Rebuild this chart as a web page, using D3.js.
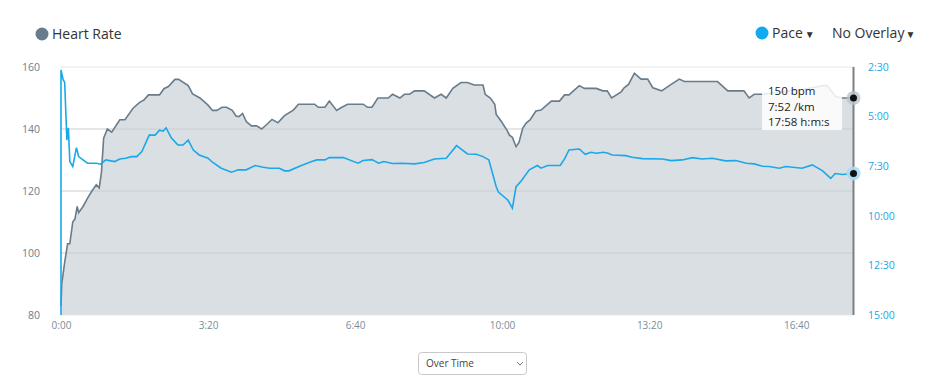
<!DOCTYPE html>
<html>
<head>
<meta charset="utf-8">
<script src="https://cdn.jsdelivr.net/npm/d3@7"></script>
<style>
  body { margin: 0; background: #fff; font-family: "Open Sans", "Noto Sans", sans-serif; }
</style>
</head>
<body>
<div id="vis-container"></div>
<script>
// time in seconds, heart rate in bpm
const hrTime = [0, 1, 5, 9, 12, 16, 19, 22, 24, 30, 36, 42, 48, 52, 55, 58, 63, 69, 80, 87, 98, 107, 113, 119, 134, 140, 146, 155, 160, 173, 179, 189, 200, 206, 212, 219, 225, 233, 238, 242, 247, 252, 259, 266, 273, 279, 287, 295, 304, 316, 323, 345, 350, 359, 365, 375, 382, 390, 411, 417, 423, 431, 445, 451, 461, 467, 474, 481, 494, 508, 517, 524, 533, 544, 553, 562, 574, 577, 584, 590, 592, 599, 607, 610, 614, 619, 623, 628, 633, 638, 646, 653, 667, 678, 685, 691, 705, 712, 728, 737, 743, 749, 762, 766, 772, 780, 789, 798, 805, 817, 830, 841, 848, 893, 907, 929, 936, 943, 954, 990, 1010, 1036, 1042, 1054, 1063, 1078];
const hrValue = [83, 90, 97, 103, 103, 110, 111, 115, 113, 115, 117.6, 120, 122, 121, 126, 137, 140, 139, 143, 143, 146.7, 148.6, 149.4, 151, 151, 153, 153.7, 156, 156, 154, 151.3, 150, 147.7, 146, 146, 147, 147, 146, 144.2, 144, 145, 142.4, 141, 141, 140, 141.3, 143.1, 142, 144.3, 146.1, 148, 148, 147, 147, 149, 146, 147, 148, 148, 147, 147, 150, 150, 151.2, 150, 151.2, 151.2, 152.3, 152.3, 150, 151.2, 150, 153.1, 155, 155, 154.2, 154.2, 151.2, 150, 148, 144.7, 142.4, 139.5, 138, 137.3, 134.3, 135.7, 140.2, 142, 142.9, 145.8, 146.1, 149, 149, 151, 151, 154, 153.1, 153.1, 152.3, 152.3, 150, 152, 153.3, 154.4, 158, 156.1, 156.1, 153.3, 152.3, 154.4, 156.1, 155.3, 155.3, 152.3, 152.3, 150, 151.2, 151.2, 152.3, 152.8, 154, 154, 150.4, 150, 150];

// time in seconds, pace in seconds per km
const paceTime = [0, 0, 3, 5, 8, 10, 12, 16, 21, 24, 36, 48, 54, 61, 73, 80, 88, 96, 103, 110, 120, 128, 134, 139, 143, 150, 159, 166, 173, 180, 188, 200, 206, 218, 232, 241, 252, 264, 275, 284, 297, 304, 310, 327, 341, 348, 359, 365, 384, 404, 411, 423, 432, 439, 451, 463, 481, 494, 508, 524, 538, 553, 565, 574, 582, 592, 595, 608, 614, 619, 626, 637, 648, 653, 662, 679, 685, 691, 705, 713, 721, 728, 738, 744, 750, 768, 777, 791, 818, 830, 845, 859, 872, 886, 904, 918, 932, 943, 954, 963, 977, 986, 1008, 1022, 1036, 1047, 1053, 1063, 1078];
const paceValue = [900, 159, 189, 196, 371, 334, 436, 451, 394, 421, 441, 441, 444, 431, 436, 428, 426, 421, 421, 406, 356, 356, 341, 344, 334, 364, 386, 386, 371, 401, 416, 426, 438, 456, 468, 461, 461, 448, 453, 456, 456, 464, 464, 448, 436, 431, 431, 424, 424, 441, 433, 430, 441, 436, 442, 441, 443, 439, 428, 426, 388, 413, 414, 421, 431, 512, 528, 553, 577, 512, 495, 461, 448, 456, 448, 448, 428, 401, 398, 414, 408, 411, 408, 411, 416, 418, 423, 427, 428, 433, 431, 424, 428, 426, 434, 433, 441, 443, 450, 451, 456, 451, 456, 446, 464, 487, 472, 475, 472];

const xTicks = [0, 200, 400, 600, 800, 1000];
const hrTicks = [80, 100, 120, 140, 160];
const paceTicks = [150, 300, 450, 600, 750, 900];

const tooltipLines = ["150 bpm", "7:52 /km", "17:58 h:m:s"];

const width = 935;
const height = 390;
const margin = { top: 67, right: 81.5, bottom: 75, left: 61 };

const hrData = hrTime.map((t, i) => ({ t: t, v: hrValue[i] }));
const paceData = paceTime.map((t, i) => ({ t: t, v: paceValue[i] }));

const fmt = (s) => Math.floor(s / 60) + ":" + String(s % 60).padStart(2, "0");

const svg = d3.select("#vis-container")
  .append("svg")
  .attr("width", width)
  .attr("height", height);

// Scales
const x = d3.scaleLinear()
  .domain([0, 1078])
  .range([margin.left, width - margin.right]);

const yHr = d3.scaleLinear()
  .domain([80, 160])
  .range([height - margin.bottom, margin.top]);

const yPace = d3.scaleLinear()
  .domain([150, 900])
  .range([margin.top, height - margin.bottom]);

// Heart rate area
svg.append("path")
  .datum(hrData)
  .attr("fill", "#dadfe3")
  .attr("d", d3.area()
    .x((d) => x(d.t))
    .y0(yHr(80))
    .y1((d) => yHr(d.v)));

// Grid lines
svg.append("g")
  .selectAll("line")
  .data(hrTicks)
  .enter()
  .append("line")
    .attr("x1", margin.left)
    .attr("x2", width - margin.right)
    .attr("y1", (d) => yHr(d))
    .attr("y2", (d) => yHr(d))
    .attr("stroke", (d) => (d === 160 || d === 80) ? "#e3e6e9" : "#c9ced3")
    .attr("stroke-width", 1);

svg.append("path")
  .datum(hrData)
  .attr("fill", "none")
  .attr("stroke", "#687c8c")
  .attr("stroke-width", 1.6)
  .attr("d", d3.line().x((d) => x(d.t)).y((d) => yHr(d.v)));

svg.append("path")
  .datum(paceData)
  .attr("fill", "none")
  .attr("stroke", "#1aa8e9")
  .attr("stroke-width", 1.6)
  .attr("d", d3.line().x((d) => x(d.t)).y((d) => yPace(d.v)));

// Left axis
svg.append("g")
  .attr("transform", `translate(40,0)`)
  .call(d3.axisLeft(yHr).tickValues(hrTicks).tickSize(0).tickPadding(0))
  .call((g) => g.select(".domain").remove())
  .call((g) => g.selectAll("text")
    .attr("fill", "#6a7e8e")
    .attr("font-size", "10.5px")
    .attr("font-family", "Open Sans, sans-serif"));

// Right axis
svg.append("g")
  .attr("transform", `translate(868,0)`)
  .call(d3.axisRight(yPace).tickValues(paceTicks).tickFormat(fmt).tickSize(0).tickPadding(0))
  .call((g) => g.select(".domain").remove())
  .call((g) => g.selectAll("text")
    .attr("fill", "#1ba7e8")
    .attr("font-size", "10.5px")
    .attr("font-family", "Open Sans, sans-serif"));

// Bottom axis
svg.append("g")
  .attr("transform", `translate(0,${height - margin.bottom + 7})`)
  .call(d3.axisBottom(x).tickValues(xTicks).tickFormat(fmt).tickSize(0).tickPadding(0))
  .call((g) => g.select(".domain").remove())
  .call((g) => g.selectAll("text")
    .attr("fill", "#7a8c9a")
    .attr("font-size", "10px")
    .attr("font-family", "Open Sans, sans-serif"));

// Hover cursor
const last = hrData.length - 1;
const cx = x(hrData[last].t);
svg.append("line")
  .attr("x1", cx).attr("x2", cx)
  .attr("y1", margin.top).attr("y2", height - margin.bottom)
  .attr("stroke", "#7b7f83")
  .attr("stroke-width", 2);

// Tooltip
svg.append("rect")
  .attr("x", 762).attr("y", 83)
  .attr("width", 80).attr("height", 47)
  .attr("fill", "#fff")
  .attr("opacity", 0.85);

svg.append("g")
  .selectAll("text")
  .data(tooltipLines)
  .enter()
  .append("text")
    .attr("x", 768)
    .attr("y", (d, i) => 95 + i * 15.5)
    .attr("font-size", "11.5px")
    .attr("font-family", "Open Sans, sans-serif")
    .attr("fill", "#222")
    .text((d) => d);

// Markers
svg.append("circle")
  .attr("cx", cx).attr("cy", yHr(hrData[last].v))
  .attr("r", 7).attr("fill", "#b9c2ca").attr("opacity", 0.8);
svg.append("circle")
  .attr("cx", cx).attr("cy", yHr(hrData[last].v))
  .attr("r", 3.5).attr("fill", "#111");
svg.append("circle")
  .attr("cx", cx).attr("cy", yPace(paceData[paceData.length - 1].v))
  .attr("r", 7).attr("fill", "#a9dcf5").attr("opacity", 0.9);
svg.append("circle")
  .attr("cx", cx).attr("cy", yPace(paceData[paceData.length - 1].v))
  .attr("r", 3.5).attr("fill", "#111");

// Legends
svg.append("circle").attr("cx", 42).attr("cy", 34).attr("r", 6.5).attr("fill", "#687c8c");
svg.append("text")
  .attr("x", 52).attr("y", 39)
  .attr("font-size", "14px")
  .attr("font-family", "Open Sans, sans-serif")
  .attr("fill", "#333")
  .text("Heart Rate");

svg.append("circle").attr("cx", 762).attr("cy", 33).attr("r", 6.5).attr("fill", "#13a9ee");
svg.append("text")
  .attr("x", 772).attr("y", 38)
  .attr("font-size", "14px")
  .attr("font-family", "Open Sans, sans-serif")
  .attr("fill", "#333")
  .text("Pace")
  .append("tspan").attr("font-size", "10px").attr("dx", 2).text("▼");

svg.append("text")
  .attr("x", 832).attr("y", 38)
  .attr("font-size", "14px")
  .attr("font-family", "Open Sans, sans-serif")
  .attr("fill", "#333")
  .text("No Overlay")
  .append("tspan").attr("font-size", "10px").attr("dx", 1).text("▼");

// Dropdown
svg.append("rect")
  .attr("x", 418.5).attr("y", 352.5)
  .attr("width", 108).attr("height", 22)
  .attr("rx", 3)
  .attr("fill", "#fff")
  .attr("stroke", "#c8c8c8");
svg.append("text")
  .attr("x", 426).attr("y", 367)
  .attr("font-size", "10px")
  .attr("font-family", "Open Sans, sans-serif")
  .attr("fill", "#444")
  .text("Over Time");
svg.append("path")
  .attr("d", "M517,362 l3,3 l3,-3")
  .attr("fill", "none")
  .attr("stroke", "#777")
  .attr("stroke-width", 1);
</script>
</body>
</html>
